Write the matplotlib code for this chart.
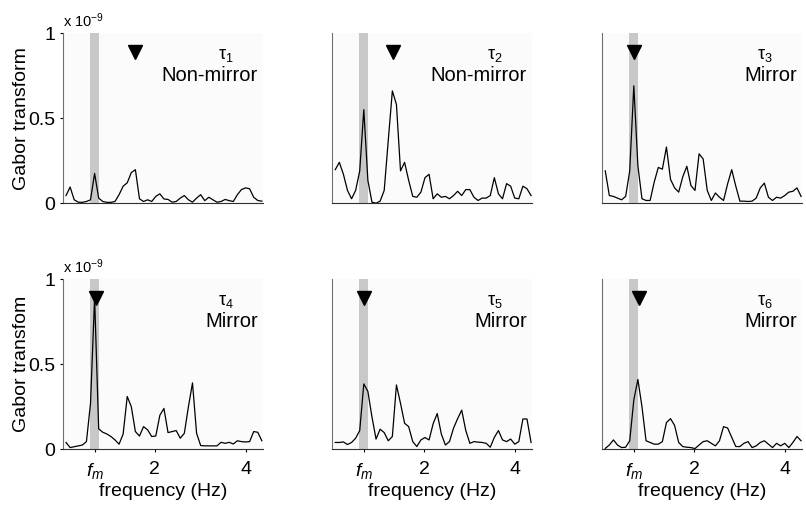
import matplotlib
matplotlib.use('Agg')
import matplotlib.pyplot as plt

plt.rcParams['font.family'] = ['Liberation Sans', 'DejaVu Sans']
plt.rcParams['mathtext.fontset'] = 'custom'
plt.rcParams['mathtext.rm'] = 'Liberation Sans'
plt.rcParams['mathtext.it'] = 'Liberation Sans:italic'
plt.rcParams['mathtext.sf'] = 'Liberation Sans'

# frequency grid (Hz)
freqs = [0.04, 0.13, 0.22, 0.31, 0.40, 0.49, 0.58, 0.67, 0.76, 0.85,
         0.94, 1.03, 1.12, 1.21, 1.30, 1.39, 1.48, 1.57, 1.66, 1.75,
         1.84, 1.93, 2.02, 2.11, 2.20, 2.29, 2.38, 2.47, 2.56, 2.65,
         2.74, 2.83, 2.92, 3.01, 3.10, 3.19, 3.28, 3.37, 3.46, 3.55,
         3.64, 3.73, 3.82, 3.91, 4.00, 4.09, 4.18, 4.27, 4.36]

# Gabor transform (x 1e-9), one list per tau
tau1 = [0.045, 0.095, 0.02, 0.006, 0.005, 0.01, 0.02, 0.175, 0.03, 0.01,
        0.005, 0.005, 0.01, 0.05, 0.1, 0.12, 0.18, 0.197, 0.026, 0.01,
        0.02, 0.01, 0.04, 0.055, 0.025, 0.022, 0.006, 0.01, 0.03, 0.045,
        0.02, 0.006, 0.03, 0.05, 0.015, 0.035, 0.02, 0.006, 0.01, 0.022,
        0.015, 0.01, 0.05, 0.08, 0.09, 0.085, 0.035, 0.016, 0.012]
tau2 = [0.197, 0.24, 0.17, 0.075, 0.026, 0.075, 0.19, 0.55, 0.134, 0.006,
        0.0, 0.012, 0.075, 0.37, 0.66, 0.58, 0.19, 0.24, 0.134, 0.04,
        0.035, 0.065, 0.15, 0.17, 0.026, 0.055, 0.035, 0.04, 0.026, 0.045,
        0.07, 0.045, 0.08, 0.08, 0.035, 0.016, 0.03, 0.03, 0.045, 0.15,
        0.055, 0.026, 0.115, 0.1, 0.03, 0.026, 0.1, 0.085, 0.045]
tau3 = [0.19, 0.045, 0.04, 0.03, 0.02, 0.04, 0.19, 0.69, 0.22, 0.026,
        0.016, 0.016, 0.124, 0.21, 0.2, 0.33, 0.14, 0.09, 0.065, 0.155,
        0.217, 0.104, 0.075, 0.29, 0.26, 0.075, 0.016, 0.06, 0.035, 0.016,
        0.114, 0.197, 0.1, 0.012, 0.012, 0.01, 0.012, 0.03, 0.09, 0.118,
        0.035, 0.016, 0.035, 0.03, 0.045, 0.065, 0.07, 0.09, 0.04]
tau4 = [0.04, 0.01, 0.015, 0.02, 0.025, 0.045, 0.27, 0.89, 0.12, 0.1,
        0.09, 0.075, 0.055, 0.03, 0.09, 0.31, 0.25, 0.104, 0.078, 0.133,
        0.114, 0.075, 0.078, 0.2, 0.24, 0.098, 0.104, 0.11, 0.065, 0.094,
        0.25, 0.39, 0.094, 0.022, 0.02, 0.02, 0.02, 0.02, 0.041, 0.035,
        0.041, 0.031, 0.05, 0.045, 0.043, 0.045, 0.104, 0.1, 0.05]
tau5 = [0.04, 0.04, 0.043, 0.028, 0.04, 0.065, 0.11, 0.384, 0.34, 0.19,
        0.06, 0.118, 0.098, 0.05, 0.075, 0.378, 0.27, 0.153, 0.133, 0.045,
        0.016, 0.055, 0.069, 0.055, 0.15, 0.21, 0.09, 0.025, 0.045, 0.124,
        0.18, 0.23, 0.11, 0.035, 0.045, 0.042, 0.04, 0.035, 0.012, 0.07,
        0.11, 0.055, 0.045, 0.06, 0.03, 0.045, 0.178, 0.178, 0.04]
tau6 = [0.005, 0.025, 0.055, 0.025, 0.01, 0.012, 0.05, 0.29, 0.41, 0.25,
        0.05, 0.04, 0.03, 0.03, 0.045, 0.157, 0.18, 0.14, 0.04, 0.016,
        0.012, 0.01, 0.004, 0.025, 0.045, 0.05, 0.035, 0.02, 0.05, 0.133,
        0.125, 0.07, 0.016, 0.016, 0.035, 0.045, 0.01, 0.02, 0.04, 0.05,
        0.03, 0.01, 0.035, 0.02, 0.035, 0.01, 0.04, 0.075, 0.05]

series = [tau1, tau2, tau3, tau4, tau5, tau6]
kinds = ['Non-mirror', 'Non-mirror', 'Mirror', 'Mirror', 'Mirror', 'Mirror']
arrows = [1.56, 1.31, 0.68, 0.69, 0.68, 0.79]   # triangle marker frequency
f_m = 0.67
band = (0.57, 0.77)

fig = plt.figure(figsize=(8.06, 5.08), dpi=100)
lefts = [0.078, 0.412, 0.747]
bottoms = [0.600, 0.1156]
W, H = 0.248, 0.335

for k in range(6):
    row, col = divmod(k, 3)
    ax = fig.add_axes([lefts[col], bottoms[row], W, H])
    ax.set_facecolor('#fbfbfb')
    ax.axvspan(band[0], band[1], color='#c8c8c8', lw=0, zorder=1)
    ax.plot(freqs, series[k], color='black', lw=0.9, zorder=2)
    ax.plot([arrows[k]], [0.89], marker='v', ms=10, color='black', ls='none', zorder=3)
    ax.set_xlim(-0.03, 4.38)
    ax.set_ylim(0, 1)
    for s in ['top', 'right']:
        ax.spines[s].set_visible(False)
    ax.spines['left'].set_color('#707070')
    ax.spines['bottom'].set_color('#303030')
    ax.tick_params(length=2.5, width=0.8, pad=3, labelsize=14)

    ax.text(0.775, 0.87, r'$\mathrm{\tau_%d}$' % (k + 1), transform=ax.transAxes,
            ha='left', va='center', fontsize=13)
    ax.text(0.975, 0.75, kinds[k], transform=ax.transAxes,
            ha='right', va='center', fontsize=14.5)

    if col == 0:
        ax.set_yticks([0, 0.5, 1])
        ax.set_yticklabels(['0', '0.5', '1'])
        ax.set_ylabel('Gabor transform' if row == 0 else 'Gabor transfom', fontsize=14)
        ax.yaxis.set_label_coords(-0.165, 0.5)
        ax.text(0.0, 1.02, r'x 10$^{\mathrm{-9}}$', transform=ax.transAxes,
                ha='left', va='bottom', fontsize=10.5)
    else:
        ax.set_yticks([])

    if row == 1:
        ax.set_xticks([f_m, 2, 4])
        ax.set_xticklabels([r'$f_m$', '2', '4'])
        ax.tick_params(axis='x', pad=6)
        ax.set_xlabel('frequency (Hz)', fontsize=14)
        ax.xaxis.set_label_coords(0.5, -0.2)
    else:
        ax.set_xticks([])

fig.savefig('out.png', dpi=100)
